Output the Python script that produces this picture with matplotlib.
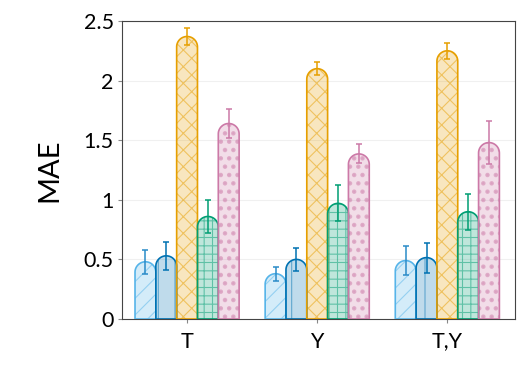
import numpy as np
import matplotlib
matplotlib.use("Agg")
from matplotlib import pyplot as plt
from matplotlib.path import Path
from matplotlib.patches import PathPatch

groups = ["T", "Y", "T,Y"]
series_colors = ["#56B4E9", "#0072B2", "#E69F00", "#009E73", "#CC79A7"]
error_colors = ["#2a8bc8", "#0072B2", "#E69F00", "#009E73", "#CC79A7"]
hatches = ["//", "|", "xx", "++", ".."]
hatch_widths = [0.8, 0.8, 0.8, 0.8, 2.0]

# MAE per series (rows) and group (columns)
mae = [
    [0.48, 0.38, 0.49],
    [0.53, 0.50, 0.515],
    [2.37, 2.10, 2.25],
    [0.86, 0.97, 0.90],
    [1.64, 1.385, 1.48],
]
mae_err = [
    [0.10, 0.06, 0.125],
    [0.12, 0.095, 0.125],
    [0.07, 0.055, 0.065],
    [0.14, 0.15, 0.15],
    [0.12, 0.08, 0.18],
]

plt.rcParams["font.family"] = ["Lato", "DejaVu Sans"]
plt.rcParams["hatch.linewidth"] = 0.8

fig = plt.figure(figsize=(5.21, 3.67), dpi=100)
ax = fig.add_axes([122 / 521, 1 - 319 / 367, 393 / 521, 298 / 367])
xlim, ylim = (-0.5, 2.52), (0, 2.5)
ax.set_xlim(*xlim)
ax.set_ylim(*ylim)

width = 0.16
# radius of the rounded cap, in y data units
ax_w = 393 / (xlim[1] - xlim[0])
ax_h = 298 / (ylim[1] - ylim[0])
r_y = (width / 2) * ax_w / ax_h


def rounded_bar(x0, top, w):
    cx = x0 + w / 2
    t = np.linspace(np.pi, 0, 30)
    verts = [(x0, 0), (x0, top - r_y)]
    verts += [(cx + w / 2 * np.cos(a), top - r_y + r_y * np.sin(a)) for a in t]
    verts += [(x0 + w, 0), (x0, 0)]
    codes = [Path.MOVETO] + [Path.LINETO] * (len(verts) - 2) + [Path.CLOSEPOLY]
    return Path(verts, codes)


x = np.arange(len(groups))
for i, (vals, errs) in enumerate(zip(mae, mae_err)):
    c = series_colors[i]
    for g in range(len(groups)):
        x0 = x[g] - 2.5 * width + i * width
        p = rounded_bar(x0, vals[g], width)
        fill = PathPatch(p, facecolor=matplotlib.colors.to_rgba(c, 0.25),
                         edgecolor=matplotlib.colors.to_rgba(c, 0.5),
                         hatch=hatches[i], lw=0, zorder=2)
        if hasattr(fill, "set_hatch_linewidth"):
            fill.set_hatch_linewidth(hatch_widths[i])
        ax.add_patch(fill)
        ax.add_patch(PathPatch(p, facecolor="none", edgecolor=c, lw=1.2, zorder=3))
    ax.errorbar(x - 2 * width + i * width, vals, yerr=errs, fmt="none",
                ecolor=error_colors[i], elinewidth=1.1, capsize=2.2, capthick=1.1, zorder=4)

ax.set_xticks(x)
ax.set_xticklabels(groups)
ax.set_yticks([0, 0.5, 1, 1.5, 2, 2.5])
ax.set_yticklabels(["0", "0.5", "1", "1.5", "2", "2.5"])
ax.tick_params(labelsize=15.5, length=3, color="#888888", pad=3, labelcolor="black")
ax.tick_params(axis="x", pad=6)
ax.set_ylabel("MAE", fontsize=21, labelpad=15)
ax.yaxis.grid(True, color="#f0f0f0", lw=0.8)
ax.set_axisbelow(True)
for s in ax.spines.values():
    s.set_color("#444444")
    s.set_linewidth(0.8)

fig.savefig("out.png", dpi=100)
